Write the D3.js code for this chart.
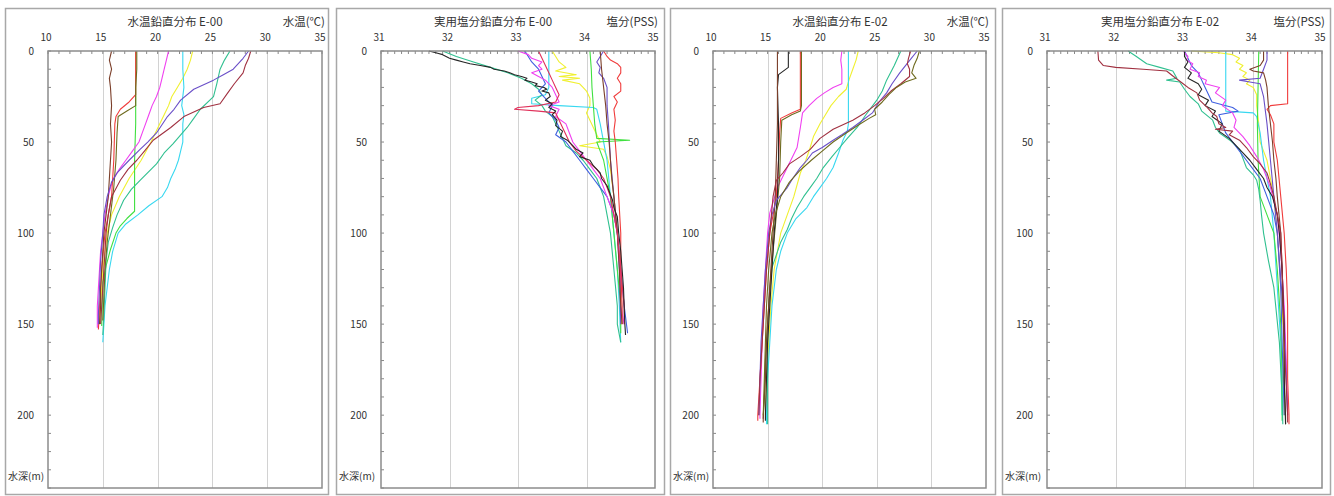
<!DOCTYPE html>
<html><head><meta charset="utf-8">
<script src="https://cdn.jsdelivr.net/npm/d3@7"></script>
<style>
body{margin:0;background:#fff;}
text{font-family:"Noto Sans CJK JP","DejaVu Sans",sans-serif;fill:#333;}
</style>
</head><body>
<svg id="c" width="1334" height="496"></svg>
<script>
// ---------- axis ticks ----------
const tempTicks = [10, 15, 20, 25, 30, 35];
const salTicks = [31, 32, 33, 34, 35];
const depthTicks = [0, 50, 100, 150, 200];
const titles = ["水温鉛直分布 E-00", "実用塩分鉛直分布 E-00", "水温鉛直分布 E-02", "実用塩分鉛直分布 E-02"];
const unitLabels = ["水温(℃)", "塩分(PSS)", "水温(℃)", "塩分(PSS)"];
const depthLabel = "水深(m)";

// ---------- colours of the profile series ----------
const colors = {
  brown: "#7b3f2a", olive: "#6e6a1e", red: "#f03c3c", magenta: "#f040f0",
  cyan: "#38d8f0", yellow: "#f0f030", teal: "#30c090", purple: "#6a4fc8",
  darkred: "#a03040", green: "#40e040", black: "#262626", blue: "#4060e0",
  crimson: "#e0305a"
};

// ---------- Panel 1: water temperature E-00  [depth m, °C] ----------
const t00_brown = [[0,15.8],[5,15.6],[10,15.8],[15,15.6],[20,15.7],[30,15.8],[40,15.7],[50,15.8],[60,15.7],[70,15.6],[80,15.5],[90,15.3],[100,15.1],[110,15.0],[120,14.9],[130,14.8],[140,14.8],[150,14.7]];
const t00_olive = [[0,18.1],[10,18.1],[20,18.0],[30,18.0],[33,17.2],[36,16.4],[45,16.3],[60,16.2],[75,16.0],[90,15.7],[105,15.4],[120,15.2],[135,15.1],[148,15.0]];
const t00_red = [[0,18.0],[24,18.0],[28,17.4],[32,16.6],[36,16.2],[40,16.1],[60,16.0],[80,15.8],[90,15.5],[100,15.2],[120,14.9],[140,14.7],[153,14.6]];
const t00_green = [[0,18.0],[20,18.0],[40,18.0],[60,17.9],[80,17.9],[88,17.9],[92,17.2],[96,16.6],[100,16.2],[109,15.7],[118,15.3],[127,15.0],[140,14.95],[151,14.9]];
const t00_magenta = [[0,21.0],[5,20.8],[10,20.6],[15,20.4],[20,20.2],[25,19.9],[30,19.5],[35,19.2],[40,18.9],[45,18.6],[50,18.3],[55,17.7],[60,17.1],[65,16.5],[70,16.0],[75,15.7],[80,15.5],[90,15.2],[100,15.0],[110,14.8],[120,14.7],[130,14.6],[140,14.5],[152,14.5]];
const t00_cyan = [[0,22.3],[10,22.3],[20,22.4],[30,22.2],[35,22.4],[40,22.3],[50,22.3],[55,22.1],[60,21.9],[65,21.6],[70,21.2],[75,20.9],[80,20.4],[85,19.2],[90,18.2],[95,17.1],[100,16.4],[110,15.9],[120,15.6],[130,15.4],[140,15.2],[150,15.1],[160,15.0]];
const t00_yellow = [[0,23.2],[5,23.0],[10,22.7],[15,22.3],[20,21.8],[25,21.3],[30,21.0],[35,20.6],[40,20.2],[50,19.4],[60,18.5],[70,17.4],[80,16.5],[90,15.8],[100,15.4],[120,15.0],[140,14.8],[150,14.7]];
const t00_teal = [[0,26.6],[5,26.1],[10,25.7],[18,25.4],[25,25.1],[32,23.9],[37,23.3],[42,22.7],[51,21.4],[56,20.6],[62,19.9],[71,18.4],[76,17.6],[82,16.9],[90,16.3],[97,15.9],[105,15.5],[115,15.3],[130,15.2],[145,15.1],[156,15.0]];
const t00_purple = [[0,28.3],[4,27.8],[10,26.9],[13,26.0],[16,25.1],[21,23.3],[27,22.1],[32,21.5],[36,20.9],[45,19.9],[50,19.1],[54,18.4],[60,17.4],[67,16.3],[72,15.8],[80,15.4],[90,15.1],[100,15.0],[115,14.8],[130,14.7],[145,14.6],[150,14.6]];
const t00_darkred = [[0,28.5],[4,28.3],[8,28.0],[12,27.8],[18,27.0],[23,26.4],[29,25.7],[31,24.2],[36,22.4],[42,21.2],[49,19.6],[55,18.8],[60,18.1],[65,17.3],[71,16.6],[80,15.8],[90,15.5],[100,15.3],[120,15.1],[140,14.9],[150,14.8]];

// ---------- Panel 2: salinity E-00  [depth m, PSS] ----------
const s00_black = [[0,31.7],[1,31.8],[2,31.9],[4,32.0],[5,32.1],[6,32.2],[7,32.3],[8,32.45],[9,32.6],[10,32.65],[11,32.8],[12,32.88],[13,32.95],[14,33.05],[15,33.13],[16,33.1],[17,33.2],[18,33.28],[19,33.25],[20,33.38],[21,33.42],[22,33.35],[23,33.45],[25,33.47],[27,33.4],[29,33.5],[31,33.45],[33,33.55],[35,33.5],[38,33.57],[41,33.55],[44,33.65],[47,33.62],[49,33.72],[52,33.8],[54,33.85],[56,33.95],[58,33.9],[60,34.05],[63,34.1],[67,34.2],[70,34.22],[74,34.3],[78,34.34],[82,34.38],[86,34.4],[91,34.45],[100,34.47],[110,34.5],[120,34.52],[130,34.54],[140,34.55],[150,34.56],[156,34.57]];
const s00_teal = [[0,31.9],[3,32.1],[6,32.35],[9,32.6],[12,32.85],[15,33.05],[18,33.2],[21,33.3],[24,33.35],[27,33.25],[30,33.35],[33,33.4],[36,33.5],[40,33.55],[44,33.6],[48,33.65],[52,33.7],[56,33.85],[60,33.95],[65,34.05],[70,34.15],[75,34.2],[80,34.25],[90,34.3],[100,34.35],[120,34.4],[140,34.45],[150,34.45],[160,34.5]];
const s00_magenta = [[0,33.0],[2,33.15],[4,33.2],[6,33.35],[8,33.3],[10,33.35],[12,33.2],[14,33.3],[16,33.4],[20,33.5],[24,33.55],[28,33.6],[30,33.45],[32,33.6],[36,33.55],[40,33.7],[45,33.75],[50,33.8],[55,33.9],[60,34.0],[65,34.1],[70,34.2],[80,34.3],[90,34.4],[100,34.45],[120,34.5],[140,34.5],[150,34.55]];
const s00_crimson = [[0,33.3],[4,33.35],[8,33.4],[12,33.45],[16,33.5],[20,33.55],[24,33.6],[28,33.55],[30,33.3],[31,33.0],[32,32.95],[33,33.3],[34,33.55],[38,33.6],[42,33.65],[46,33.7],[50,33.75],[55,33.85],[60,34.0],[65,34.15],[70,34.25],[80,34.35],[90,34.4],[100,34.45],[120,34.5],[140,34.55],[150,34.55]];
const s00_blue = [[0,33.1],[3,33.15],[6,33.2],[10,33.3],[14,33.35],[18,33.4],[22,33.3],[26,33.4],[30,33.5],[34,33.45],[38,33.55],[42,33.6],[46,33.55],[50,33.7],[55,33.8],[60,33.9],[65,34.0],[70,34.1],[75,34.2],[80,34.3],[90,34.4],[100,34.45],[120,34.5],[140,34.55],[155,34.6]];
const s00_cyan = [[0,33.45],[10,33.45],[20,33.45],[24,33.4],[26,33.2],[29,33.2],[30,33.6],[31,34.1],[32,34.15],[40,34.2],[50,34.25],[60,34.3],[80,34.35],[100,34.4],[120,34.45],[140,34.48],[160,34.5]];
const s00_yellow = [[0,33.5],[3,33.55],[6,33.6],[9,33.7],[11,33.55],[13,33.85],[14,33.6],[15,33.9],[16,33.65],[18,33.9],[20,33.95],[22,34.0],[26,34.05],[30,34.05],[34,34.0],[38,34.05],[42,34.1],[46,34.15],[50,34.2],[52,33.9],[54,34.25],[58,34.3],[65,34.35],[80,34.4],[100,34.45],[120,34.5],[140,34.5],[150,34.5]];
const s00_green = [[0,34.05],[10,34.07],[20,34.08],[30,34.1],[40,34.12],[48,34.15],[49,34.63],[50,34.15],[55,34.2],[60,34.25],[70,34.3],[80,34.35],[100,34.4],[120,34.45],[140,34.5],[155,34.5]];
const s00_brown = [[0,34.2],[10,34.22],[20,34.25],[30,34.28],[40,34.3],[50,34.33],[60,34.35],[70,34.37],[80,34.4],[100,34.45],[120,34.48],[140,34.5],[150,34.52]];
const s00_red = [[0,34.25],[3,34.3],[5,34.35],[7,34.45],[9,34.5],[12,34.5],[15,34.45],[18,34.5],[22,34.5],[25,34.4],[28,34.45],[32,34.4],[38,34.42],[44,34.4],[50,34.42],[60,34.44],[70,34.46],[80,34.47],[100,34.5],[120,34.5],[140,34.52],[150,34.52]];
const s00_purple = [[0,34.25],[3,34.2],[6,34.15],[9,34.2],[12,34.18],[15,34.25],[20,34.3],[30,34.3],[40,34.32],[60,34.35],[80,34.4],[100,34.45],[120,34.48],[150,34.5]];

// ---------- Panel 3: water temperature E-02  [depth m, °C] ----------
const t02_brown = [[0,15.9],[20,15.9],[40,15.9],[60,15.8],[80,15.7],[100,15.5],[120,15.3],[140,15.1],[160,14.9],[180,14.8],[200,14.6],[204,14.6]];
const t02_black = [[0,16.9],[9,16.9],[13,16.0],[20,15.9],[40,16.0],[60,16.0],[80,15.9],[100,15.6],[120,15.4],[140,15.2],[160,15.0],[180,14.9],[200,14.8],[203,14.8]];
const t02_olive = [[0,18.1],[10,18.1],[20,18.1],[30,18.1],[33,18.0],[35,17.2],[38,16.3],[50,16.2],[70,16.1],[90,15.8],[110,15.5],[130,15.2],[150,15.0],[170,14.8],[190,14.7],[202,14.6]];
const t02_red = [[0,18.0],[32,18.0],[34,17.2],[37,16.2],[45,16.1],[60,16.0],[80,15.8],[100,15.2],[120,14.9],[140,14.7],[160,14.5],[180,14.3],[200,14.1],[203,14.1]];
const t02_magenta = [[0,21.8],[5,21.7],[10,21.8],[15,21.8],[18,21.8],[20,21.0],[23,20.2],[26,19.5],[30,18.8],[34,18.2],[42,18.0],[53,17.7],[64,16.8],[75,15.9],[89,15.2],[100,15.0],[120,14.8],[140,14.6],[160,14.5],[180,14.4],[200,14.3],[202,14.3]];
const t02_cyan = [[0,22.4],[10,22.4],[20,22.4],[30,22.4],[40,22.4],[44,22.3],[49,21.9],[56,21.5],[64,21.0],[70,20.4],[75,19.8],[80,19.2],[86,18.6],[92,17.6],[100,16.8],[110,16.2],[120,15.8],[140,15.4],[160,15.2],[180,15.0],[200,14.9],[205,14.9]];
const t02_yellow = [[0,23.3],[5,23.1],[10,22.8],[15,22.5],[21,22.2],[25,21.5],[30,20.8],[35,20.3],[40,19.8],[47,19.2],[53,18.9],[60,18.5],[67,18.0],[80,17.4],[90,16.8],[100,16.2],[120,15.6],[140,15.3],[160,15.1],[180,14.9],[200,14.8]];
const t02_teal = [[0,27.2],[8,26.6],[16,25.9],[22,25.5],[27,25.0],[35,24.0],[42,23.2],[48,22.3],[53,21.6],[58,20.9],[64,20.1],[70,19.5],[75,18.9],[80,18.3],[86,17.7],[92,17.2],[98,16.8],[105,16.2],[119,15.4],[140,15.1],[160,15.0],[180,15.0],[205,15.0]];
const t02_purple = [[0,28.7],[6,27.9],[12,27.1],[18,26.4],[23,25.9],[28,25.2],[34,24.6],[38,23.7],[42,22.8],[46,21.8],[49,21.0],[53,20.0],[56,19.1],[60,18.6],[64,18.0],[70,17.3],[75,16.8],[82,15.8],[90,15.4],[100,15.1],[120,14.8],[140,14.6],[160,14.4],[180,14.3],[200,14.2]];
const t02_darkred = [[0,28.1],[4,27.9],[7,27.8],[10,28.0],[14,28.0],[18,27.2],[22,26.3],[26,25.6],[30,24.8],[34,23.9],[38,22.8],[43,21.0],[48,19.8],[54,18.9],[58,18.0],[62,17.0],[67,16.4],[71,15.8],[80,15.5],[100,15.2],[120,14.9],[140,14.7],[160,14.5],[180,14.3],[200,14.2]];
const t02_olivebrown = [[0,28.9],[4,28.7],[8,28.4],[12,28.2],[15,28.6],[17,27.6],[20,26.8],[24,26.1],[28,25.5],[32,24.8],[35,24.9],[37,24.3],[40,23.5],[45,22.2],[50,21.0],[55,20.0],[60,19.0],[66,17.9],[72,17.0],[80,16.2],[90,15.7],[100,15.4],[120,15.1],[140,14.9],[160,14.8],[180,14.7],[200,14.6]];

// ---------- Panel 4: salinity E-02  [depth m, PSS] ----------
const s02_darkred = [[0,31.74],[5,31.75],[8,31.82],[9,32.0],[10,32.4],[11,32.74],[14,32.84],[18,32.98],[20,33.05],[23,33.18],[27,33.22],[31,33.33],[34,33.4],[36,33.47],[40,33.5],[42,33.6],[43,33.45],[44,33.7],[46,33.65],[49,33.8],[53,33.9],[58,34.0],[62,34.1],[67,34.2],[73,34.25],[80,34.3],[90,34.35],[100,34.4],[130,34.43],[160,34.45],[200,34.5],[204,34.5]];
const s02_teal = [[0,32.18],[3,32.3],[7,32.45],[9,32.64],[11,32.83],[15,32.89],[16,32.74],[17,32.93],[21,33.0],[25,33.08],[29,33.2],[33,33.25],[38,33.41],[42,33.45],[45,33.51],[49,33.66],[54,33.8],[59,33.85],[64,33.9],[68,34.0],[71,34.05],[76,34.08],[82,34.1],[90,34.12],[100,34.15],[115,34.22],[130,34.3],[160,34.38],[190,34.42],[205,34.43]];
const s02_magenta = [[0,32.98],[3,33.05],[5,33.03],[7,33.12],[10,33.08],[12,33.22],[14,33.2],[16,33.32],[18,33.3],[20,33.51],[23,33.45],[27,33.6],[30,33.55],[34,33.7],[38,33.75],[42,33.72],[47,33.85],[52,33.95],[58,34.05],[65,34.15],[75,34.25],[90,34.35],[110,34.4],[140,34.45],[170,34.48],[200,34.5]];
const s02_black = [[0,33.0],[3,33.0],[6,33.05],[9,33.0],[12,33.1],[15,33.05],[18,33.2],[21,33.25],[24,33.2],[27,33.35],[30,33.3],[33,33.45],[36,33.4],[40,33.55],[44,33.5],[48,33.65],[52,33.75],[56,33.85],[60,33.95],[65,34.05],[70,34.15],[75,34.2],[80,34.28],[90,34.35],[100,34.38],[120,34.42],[150,34.45],[180,34.45],[205,34.47]];
const s02_blue = [[0,33.0],[4,33.05],[8,33.1],[12,33.2],[16,33.25],[20,33.3],[24,33.35],[28,33.4],[31,33.7],[33,33.78],[35,33.5],[40,33.55],[45,33.6],[50,33.7],[55,33.8],[60,33.9],[65,34.0],[70,34.1],[80,34.2],[90,34.3],[100,34.35],[130,34.4],[160,34.42],[200,34.45]];
const s02_cyan = [[0,33.6],[10,33.6],[20,33.6],[33,33.6],[34,34.0],[36,34.05],[45,34.1],[60,34.15],[80,34.25],[100,34.3],[130,34.35],[160,34.4],[200,34.42]];
const s02_yellow = [[0,33.1],[1,33.5],[2,33.7],[4,33.8],[6,33.75],[8,33.85],[10,33.8],[12,33.9],[14,33.85],[16,33.95],[18,33.9],[20,34.0],[24,34.05],[30,34.05],[40,34.08],[50,34.1],[55,34.15],[60,34.2],[80,34.3],[100,34.35],[130,34.4],[160,34.45],[200,34.45]];
const s02_brown = [[0,34.15],[5,34.15],[8,34.1],[10,33.95],[11,34.0],[12,34.15],[16,34.18],[20,34.2],[30,34.22],[40,34.25],[50,34.28],[60,34.3],[70,34.33],[80,34.35],[100,34.4],[120,34.42],[140,34.43],[160,34.45],[180,34.45],[200,34.47],[205,34.47]];
const s02_red = [[0,34.5],[5,34.5],[10,34.5],[15,34.5],[20,34.5],[25,34.5],[29,34.5],[30,34.25],[32,34.2],[35,34.25],[40,34.3],[50,34.3],[60,34.35],[80,34.4],[100,34.45],[120,34.48],[140,34.5],[160,34.5],[180,34.5],[200,34.52],[205,34.52]];
const s02_green = [[0,34.08],[20,34.07],[40,34.06],[60,34.07],[80,34.1],[90,34.2],[100,34.3],[120,34.35],[150,34.4],[180,34.42],[203,34.42]];
const s02_purple = [[0,34.2],[5,34.2],[10,34.15],[15,34.1],[16,33.8],[17,33.95],[18,34.1],[25,34.15],[40,34.2],[60,34.25],[80,34.3],[100,34.35],[150,34.45],[200,34.5]];

// ---------- panel definitions ----------
const panels = [
  { box:[5,328], plot:[48,322], domain:[10,35], ticks:tempTicks, minor:1, titleX:175,
    series:[["yellow",t00_yellow],["cyan",t00_cyan],["green",t00_green],["teal",t00_teal],["magenta",t00_magenta],["red",t00_red],["olive",t00_olive],["brown",t00_brown],["purple",t00_purple],["darkred",t00_darkred]] },
  { box:[336,664], plot:[381,655], domain:[31,35], ticks:salTicks, minor:0.1, titleX:493,
    series:[["yellow",s00_yellow],["cyan",s00_cyan],["green",s00_green],["teal",s00_teal],["blue",s00_blue],["magenta",s00_magenta],["purple",s00_purple],["red",s00_red],["brown",s00_brown],["crimson",s00_crimson],["black",s00_black]] },
  { box:[670,995], plot:[713,986], domain:[10,35], ticks:tempTicks, minor:1, titleX:840,
    series:[["yellow",t02_yellow],["cyan",t02_cyan],["teal",t02_teal],["magenta",t02_magenta],["red",t02_red],["olive",t02_olive],["black",t02_black],["brown",t02_brown],["purple",t02_purple],["darkred",t02_darkred],["olive",t02_olivebrown]] },
  { box:[1002,1330], plot:[1047,1322], domain:[31,35], ticks:salTicks, minor:0.1, titleX:1160,
    series:[["yellow",s02_yellow],["cyan",s02_cyan],["green",s02_green],["teal",s02_teal],["blue",s02_blue],["magenta",s02_magenta],["purple",s02_purple],["red",s02_red],["brown",s02_brown],["black",s02_black],["darkred",s02_darkred]] }
];

const svg = d3.select("#c");
const plotTop = 51, plotBottom = 488;
const y = d3.scaleLinear().domain([0, 240]).range([plotTop, plotBottom]);

panels.forEach((p, i) => {
  const g = svg.append("g");
  // panel box
  g.append("rect").attr("x", p.box[0] + 0.5).attr("y", 8.5)
    .attr("width", p.box[1] - p.box[0]).attr("height", 486)
    .attr("fill", "#fff").attr("stroke", "#a8a8a8").attr("stroke-width", 1.5);

  const x = d3.scaleLinear().domain(p.domain).range(p.plot);

  // grid lines
  g.selectAll(".grid").data(p.ticks.slice(1, -1)).enter().append("line")
    .attr("x1", d => Math.round(x(d)) + 0.5).attr("x2", d => Math.round(x(d)) + 0.5)
    .attr("y1", plotTop).attr("y2", plotBottom)
    .attr("stroke", "#d2d2d2").attr("stroke-width", 1);

  // minor ticks on top (inward)
  const n = Math.round((p.domain[1] - p.domain[0]) / p.minor);
  const minorVals = d3.range(n + 1).map(k => p.domain[0] + k * p.minor);
  g.selectAll(".tt").data(minorVals).enter().append("line")
    .attr("x1", d => x(d)).attr("x2", d => x(d))
    .attr("y1", plotTop).attr("y2", plotTop + 3)
    .attr("stroke", "#888").attr("stroke-width", 1);

  // depth ticks on left (inward), every 10 m
  g.selectAll(".lt").data(d3.range(0, 241, 10)).enter().append("line")
    .attr("x1", p.plot[0]).attr("x2", p.plot[0] + 3)
    .attr("y1", d => y(d)).attr("y2", d => y(d))
    .attr("stroke", "#888").attr("stroke-width", 1);

  // profile lines
  const line = d3.line().x(d => x(d[1])).y(d => y(d[0]));
  p.series.forEach(([c, data]) => {
    g.append("path").datum(data).attr("d", line)
      .attr("fill", "none").attr("stroke", colors[c]).attr("stroke-width", 1.1)
      .attr("stroke-linejoin", "round");
  });

  // plot frame
  g.append("rect").attr("x", p.plot[0]).attr("y", plotTop)
    .attr("width", p.plot[1] - p.plot[0]).attr("height", plotBottom - plotTop)
    .attr("fill", "none").attr("stroke", "#8c8c8c").attr("stroke-width", 1.5);

  // top tick labels
  g.selectAll(".tl").data(p.ticks).enter().append("text")
    .attr("x", d => x(d) - 2).attr("y", 41)
    .attr("text-anchor", "middle").attr("font-size", 10).text(d => d);

  // depth labels
  g.selectAll(".dl").data(depthTicks).enter().append("text")
    .attr("x", p.plot[0] - 14).attr("y", d => y(d) + 3.5)
    .attr("text-anchor", "end").attr("font-size", 10).text(d => d);

  g.append("text").attr("x", p.box[0] + 3).attr("y", 480)
    .attr("font-size", 10).text(depthLabel);

  // titles
  g.append("text").attr("x", p.titleX).attr("y", 26)
    .attr("text-anchor", "middle").attr("font-size", 11.5).text(titles[i]);
  g.append("text").attr("x", p.plot[1] + 3).attr("y", 26)
    .attr("text-anchor", "end").attr("font-size", 11.5).text(unitLabels[i]);
});
</script>
</body></html>
